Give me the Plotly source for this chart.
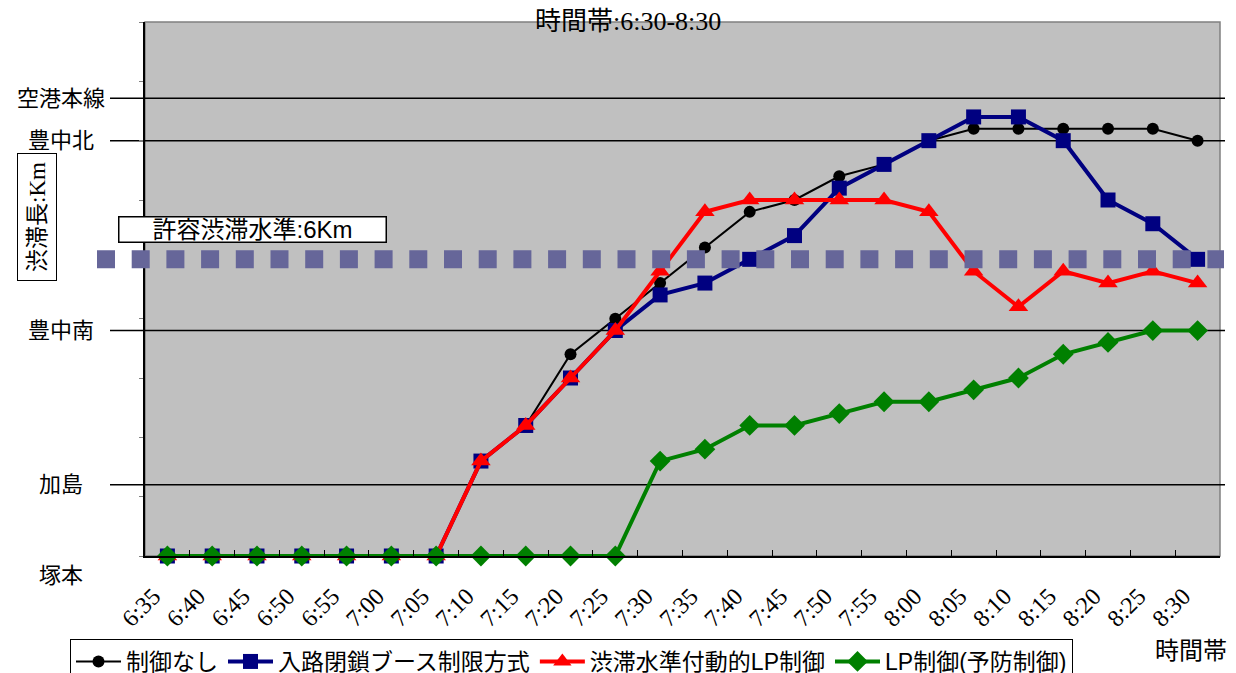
import plotly.graph_objects as go

# ---------------- data ----------------
categories = ["6:35", "6:40", "6:45", "6:50", "6:55", "7:00", "7:05", "7:10",
              "7:15", "7:20", "7:25", "7:30", "7:35", "7:40", "7:45", "7:50",
              "7:55", "8:00", "8:05", "8:10", "8:15", "8:20", "8:25", "8:30"]

no_control = [0, 0, 0, 0, 0, 0, 0, 1.92, 2.64, 4.08, 4.80, 5.52, 6.24, 6.96,
              7.20, 7.68, 7.92, 8.40, 8.64, 8.64, 8.64, 8.64, 8.64, 8.40]
ramp_closure = [0, 0, 0, 0, 0, 0, 0, 1.92, 2.64, 3.60, 4.56, 5.28, 5.52, 6.00,
                6.48, 7.44, 7.92, 8.40, 8.88, 8.88, 8.40, 7.20, 6.72, 6.00]
dynamic_lp = [0, 0, 0, 0, 0, 0, 0, 1.92, 2.64, 3.60, 4.56, 5.76, 6.96, 7.20,
              7.20, 7.20, 7.20, 6.96, 5.76, 5.04, 5.76, 5.52, 5.76, 5.52]
preventive_lp = [0, 0, 0, 0, 0, 0, 0, 0, 0, 0, 0, 1.92, 2.16, 2.64,
                 2.64, 2.88, 3.12, 3.12, 3.36, 3.60, 4.08, 4.32, 4.56, 4.56]

series_names = ["制御なし", "入路閉鎖ブース制限方式", "渋滞水準付動的LP制御", "LP制御(予防制御)"]

station_names = ["空港本線", "豊中北", "豊中南", "加島", "塚本"]
station_km = [9.26, 8.40, 4.56, 1.44, 0.0]

threshold_km = 6.0
threshold_label = "許容渋滞水準:6Km"
y_max = 10.8
y_tick_step = 1.2

title_text = "時間帯:6:30-8:30"
x_title = "時間帯"
y_title = "渋滞長:Km"

# ---------------- layout helpers ----------------
W, H = 1236, 673
ML, MR, MT, MB = 145, 16, 22, 117
PW, PH = W - ML - MR, H - MT - MB


def px_x(px):
    return (px - ML) / PW


def px_y(py):
    return (H - MB - py) / PH


JP = "Liberation Sans, Noto Sans CJK JP"
JP_SERIF = "Liberation Serif, Noto Sans CJK JP"

fig = go.Figure()

styles = [
    dict(color="#000000", width=2, symbol="circle", size=12),
    dict(color="#000080", width=4, symbol="square", size=15),
    dict(color="#FF0000", width=4, symbol="triangle-up", size=17),
    dict(color="#008000", width=4, symbol="diamond", size=16),
]
for name, vals, st in zip(series_names,
                          [no_control, ramp_closure, dynamic_lp, preventive_lp],
                          styles):
    fig.add_trace(go.Scatter(
        x=categories, y=vals, name=name, mode="lines+markers",
        line=dict(color=st["color"], width=st["width"]),
        marker=dict(symbol=st["symbol"], size=st["size"], color=st["color"]),
        cliponaxis=False,
    ))

shapes = []
# gray plot border (top/right)
shapes.append(dict(type="rect", xref="paper", yref="paper", x0=0, x1=1, y0=0, y1=1,
                   line=dict(color="#808080", width=1.5), layer="below"))
# station reference lines
for name, km in zip(station_names, station_km):
    if km > 0:
        shapes.append(dict(type="line", xref="paper", yref="y",
                           x0=px_x(110), x1=px_x(1225), y0=km, y1=km,
                           line=dict(color="#000000", width=1.5), layer="below"))
# threshold dotted line
shapes.append(dict(type="line", xref="paper", yref="y",
                   x0=px_x(97), x1=px_x(1224), y0=threshold_km, y1=threshold_km,
                   line=dict(color="#666699", width=18, dash="18px,16.7px"),
                   layer="above"))

annotations = []
for name, km in zip(station_names, station_km):
    annotations.append(dict(xref="paper", yref="y", x=px_x(61), y=km,
                            yshift=-19 if km == 0 else 0,
                            text=name, showarrow=False, xanchor="center",
                            yanchor="middle",
                            font=dict(family=JP, size=22, color="#000000")))
annotations.append(dict(xref="paper", yref="paper", x=px_x(252), y=px_y(230),
                        text=threshold_label, showarrow=False,
                        xanchor="center", yanchor="middle",
                        bgcolor="#FFFFFF", bordercolor="#000000", borderwidth=1.5,
                        width=266, height=24, borderpad=0,
                        font=dict(family=JP, size=24, color="#000000")))
annotations.append(dict(xref="paper", yref="paper", x=px_x(37), y=px_y(217),
                        text=y_title, showarrow=False, textangle=-90,
                        xanchor="center", yanchor="middle",
                        bgcolor="#FFFFFF", bordercolor="#000000", borderwidth=1,
                        width=126, height=38, borderpad=0,
                        font=dict(family=JP_SERIF, size=23, color="#000000")))
annotations.append(dict(xref="paper", yref="paper", x=px_x(628), y=px_y(21),
                        text=title_text, showarrow=False,
                        xanchor="center", yanchor="middle",
                        font=dict(family=JP_SERIF, size=26, color="#000000")))
annotations.append(dict(xref="paper", yref="paper", x=px_x(1191), y=px_y(650),
                        text=x_title, showarrow=False,
                        xanchor="center", yanchor="middle",
                        font=dict(family=JP, size=24, color="#000000")))

fig.update_layout(
    width=W, height=H, template="none",
    margin=dict(l=ML, r=MR, t=MT, b=MB, autoexpand=False),
    paper_bgcolor="#FFFFFF", plot_bgcolor="#C0C0C0",
    showlegend=True,
    legend=dict(orientation="h", xref="paper", yref="paper",
                x=px_x(70), y=px_y(639), xanchor="left", yanchor="top",
                bgcolor="#FFFFFF", bordercolor="#000000", borderwidth=1,
                font=dict(family=JP, size=23, color="#000000"),
                itemwidth=45, tracegroupgap=0),
    shapes=shapes, annotations=annotations,
    xaxis=dict(type="category", categoryorder="array", categoryarray=categories,
               range=[-0.5, len(categories) - 0.5], showgrid=False, zeroline=False,
               showline=True, linecolor="#000000", linewidth=1.5,
               ticks="inside", tickson="boundaries", ticklen=6, tickcolor="#000000",
               tickwidth=1, tickangle=-45,
               ticklabelstandoff=15, ticklabelshift=-14,
               tickfont=dict(family="Liberation Serif", size=24, color="#000000"),
               automargin=False),
    yaxis=dict(range=[0, y_max], dtick=y_tick_step, tick0=0, showgrid=False,
               zeroline=False, showline=True, linecolor="#000000", linewidth=1.5,
               ticks="outside", ticklen=4, tickcolor="#808080", tickwidth=1,
               showticklabels=False, automargin=False),
)

fig.write_html("out.html")
